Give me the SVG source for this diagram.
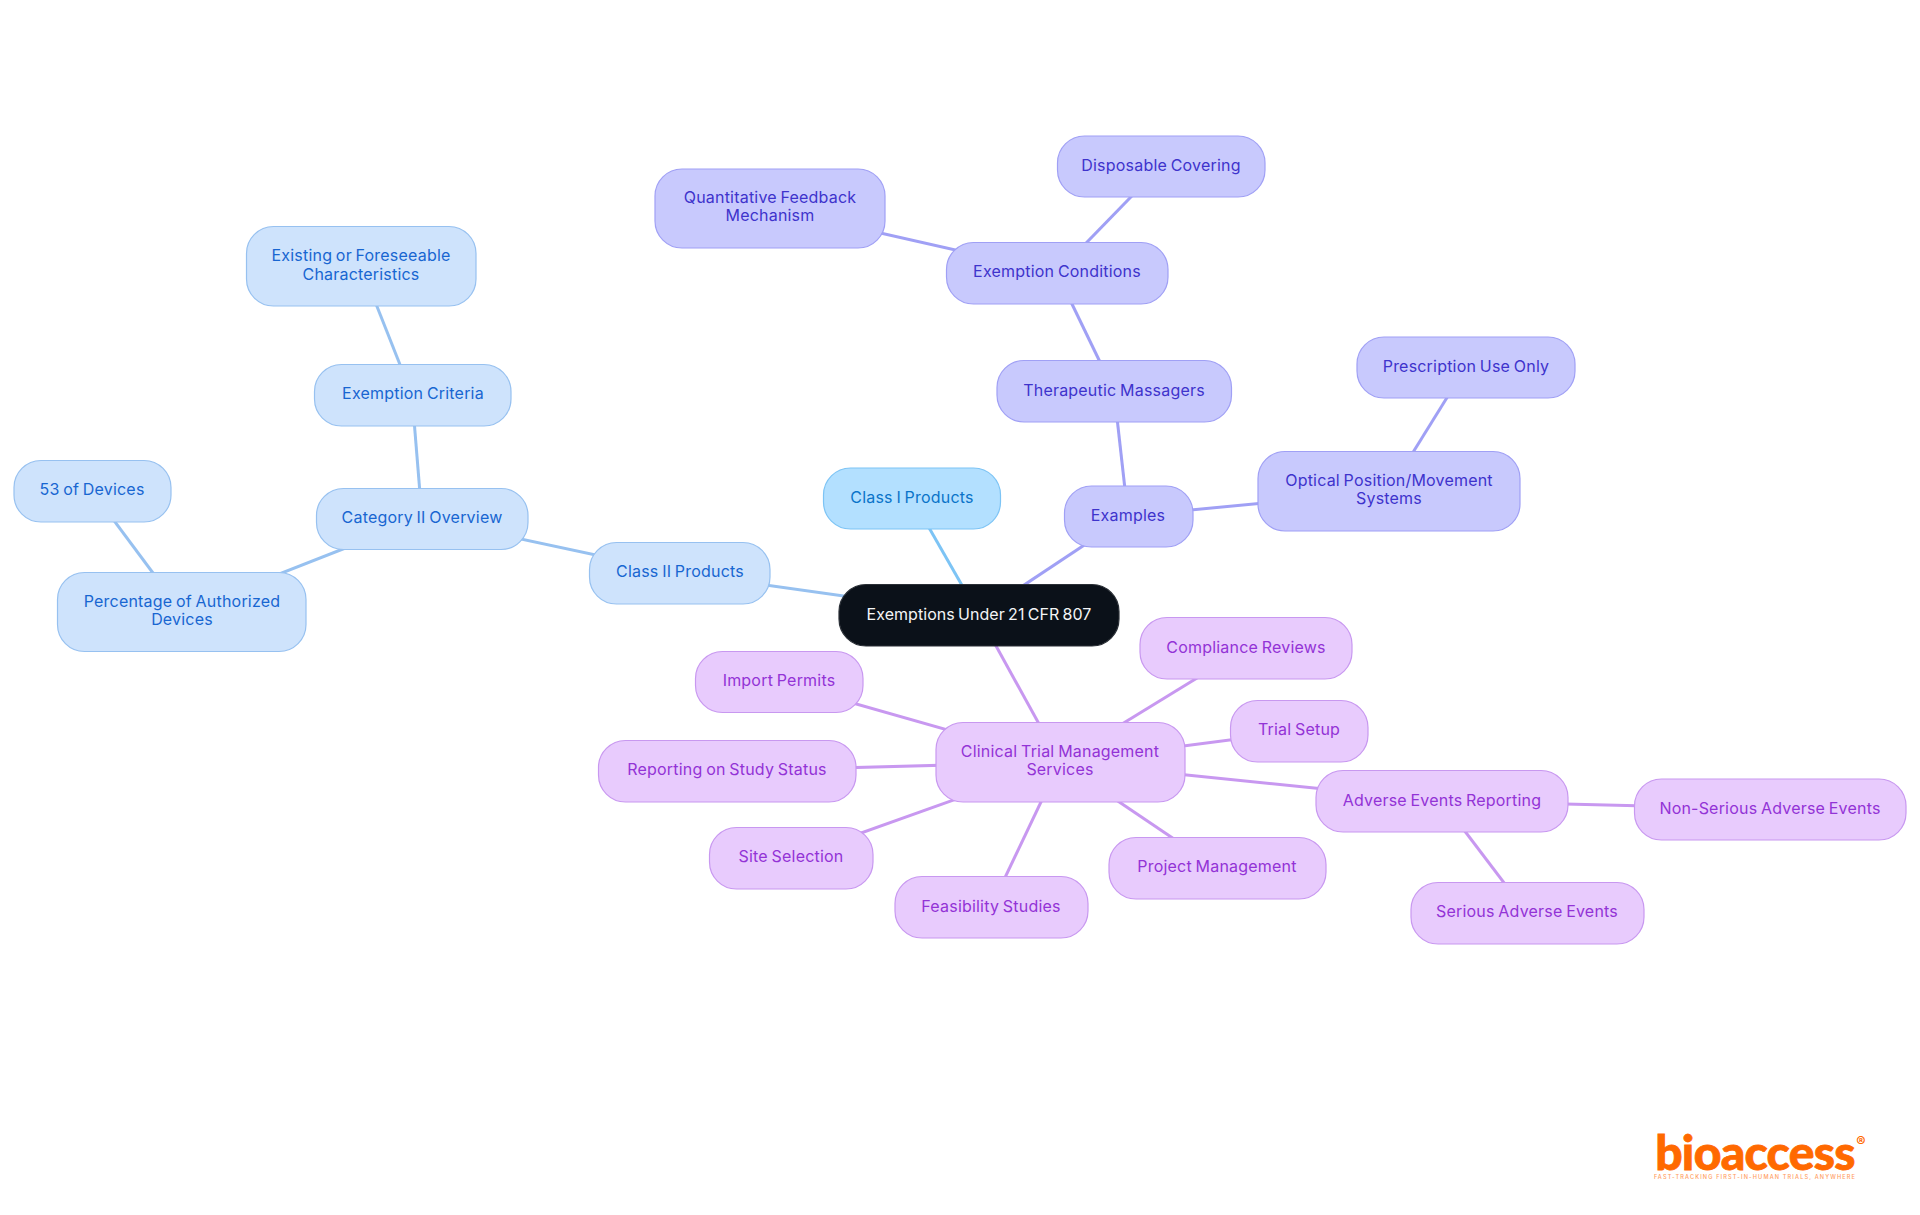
<svg xmlns="http://www.w3.org/2000/svg" width="1920" height="1215" viewBox="0 0 1920 1215">
<style>
text{font-family:"Inter","Noto Sans","Liberation Sans",sans-serif;font-size:16px;text-anchor:middle;letter-spacing:.2px;word-spacing:-1px}
rect{stroke-width:1.2}
line{stroke-width:3}
.s text{fill:#0a74c9}.s rect{fill:#b3e0ff;stroke:#7dc4f5}
.b text{fill:#1866d1}.b rect{fill:#cee3fc;stroke:#97c1f0}
.i text{fill:#3e33cc}.i rect{fill:#c8c9fd;stroke:#a0a0f5}
.p text{fill:#9333d6}.p rect{fill:#e8cbfd;stroke:#c898f0}
.r text{fill:#f4f5f6;letter-spacing:.05px;word-spacing:-1.3px}.r rect{fill:#0b1119;stroke:#2a2f36}
.cs{stroke:#7dc4f5}.cb{stroke:#97c1f0}.ci{stroke:#a0a0f5}.cp{stroke:#c898f0}
</style>
<g id="connectors">
<line class="cs" x1="979" y1="615" x2="912" y2="498"/>
<line class="cb" x1="979" y1="615" x2="680" y2="573"/>
<line class="cb" x1="680" y1="573" x2="422" y2="518"/>
<line class="cb" x1="422" y1="518" x2="412" y2="395"/>
<line class="cb" x1="412" y1="395" x2="361" y2="266"/>
<line class="cb" x1="422" y1="518" x2="182" y2="612"/>
<line class="cb" x1="182" y1="612" x2="92" y2="491"/>
<line class="ci" x1="979" y1="615" x2="1128" y2="516"/>
<line class="ci" x1="1128" y1="516" x2="1114" y2="391"/>
<line class="ci" x1="1114" y1="391" x2="1057" y2="273"/>
<line class="ci" x1="1057" y1="273" x2="770" y2="208"/>
<line class="ci" x1="1057" y1="273" x2="1161" y2="166"/>
<line class="ci" x1="1128" y1="516" x2="1389" y2="491"/>
<line class="ci" x1="1389" y1="491" x2="1466" y2="367"/>
<line class="cp" x1="979" y1="615" x2="1060" y2="762"/>
<line class="cp" x1="1060" y1="762" x2="1246" y2="648"/>
<line class="cp" x1="1060" y1="762" x2="779" y2="682"/>
<line class="cp" x1="1060" y1="762" x2="1299" y2="731"/>
<line class="cp" x1="1060" y1="762" x2="727" y2="771"/>
<line class="cp" x1="1060" y1="762" x2="1442" y2="801"/>
<line class="cp" x1="1442" y1="801" x2="1770" y2="809"/>
<line class="cp" x1="1442" y1="801" x2="1527" y2="913"/>
<line class="cp" x1="1060" y1="762" x2="791" y2="858"/>
<line class="cp" x1="1060" y1="762" x2="1217" y2="868"/>
<line class="cp" x1="1060" y1="762" x2="991" y2="907"/>
</g>
<g id="root" class="r"><rect x="839" y="584.5" width="280" height="61.5" rx="27"/><text x="979" y="620">Exemptions Under 21 CFR 807</text></g>
<g id="class1" class="s"><rect x="823.5" y="468" width="177" height="61" rx="27"/><text x="912" y="503">Class I Products</text></g>
<g id="class2" class="b"><rect x="589.5" y="542.5" width="180.5" height="61.5" rx="27"/><text x="680" y="577">Class II Products</text></g>
<g id="category2" class="b"><rect x="316.5" y="488.5" width="211.5" height="61" rx="27"/><text x="422" y="523">Category II Overview</text></g>
<g id="criteria" class="b"><rect x="314.5" y="364.5" width="196.5" height="61.5" rx="27"/><text x="413" y="399">Exemption Criteria</text></g>
<g id="existing" class="b"><rect x="246.5" y="226.5" width="229.5" height="79.5" rx="27"/><text x="361" y="261">Existing or Foreseeable</text><text x="361" y="280">Characteristics</text></g>
<g id="percentage" class="b"><rect x="57.5" y="572.5" width="248.5" height="79" rx="27"/><text x="182" y="607">Percentage of Authorized</text><text x="182" y="625">Devices</text></g>
<g id="devices53" class="b"><rect x="14" y="460.5" width="157" height="61.5" rx="27"/><text x="92" y="495">53 of Devices</text></g>
<g id="examples" class="i"><rect x="1064.5" y="486" width="128.5" height="61" rx="27"/><text x="1128" y="521">Examples</text></g>
<g id="massagers" class="i"><rect x="997" y="360.5" width="234.5" height="61.5" rx="27"/><text x="1114" y="396">Therapeutic Massagers</text></g>
<g id="conditions" class="i"><rect x="946.5" y="242.5" width="221.5" height="61.5" rx="27"/><text x="1057" y="277">Exemption Conditions</text></g>
<g id="feedback" class="i"><rect x="655" y="169" width="230" height="79" rx="27"/><text x="770" y="203">Quantitative Feedback</text><text x="770" y="221">Mechanism</text></g>
<g id="covering" class="i"><rect x="1057.5" y="136" width="207.5" height="61" rx="27"/><text x="1161" y="171">Disposable Covering</text></g>
<g id="optical" class="i"><rect x="1258" y="451.5" width="262" height="79.5" rx="27"/><text x="1389" y="486">Optical Position/Movement</text><text x="1389" y="504">Systems</text></g>
<g id="prescription" class="i"><rect x="1357" y="337" width="218" height="61" rx="27"/><text x="1466" y="372">Prescription Use Only</text></g>
<g id="clinical" class="p"><rect x="936" y="722.5" width="249" height="79.5" rx="27"/><text x="1060" y="757">Clinical Trial Management</text><text x="1060" y="775">Services</text></g>
<g id="compliance" class="p"><rect x="1140" y="617.5" width="212" height="61.5" rx="27"/><text x="1246" y="653">Compliance Reviews</text></g>
<g id="import" class="p"><rect x="695.5" y="651.5" width="167.5" height="61" rx="27"/><text x="779" y="686">Import Permits</text></g>
<g id="setup" class="p"><rect x="1230.5" y="700.5" width="137.5" height="61.5" rx="27"/><text x="1299" y="735">Trial Setup</text></g>
<g id="reporting" class="p"><rect x="598.5" y="740.5" width="257.5" height="61.5" rx="27"/><text x="727" y="775">Reporting on Study Status</text></g>
<g id="adverse" class="p"><rect x="1316" y="770.5" width="252" height="61.5" rx="27"/><text x="1442" y="806">Adverse Events Reporting</text></g>
<g id="nonserious" class="p"><rect x="1634.5" y="779" width="271.5" height="61" rx="27"/><text x="1770" y="814">Non-Serious Adverse Events</text></g>
<g id="serious" class="p"><rect x="1411" y="882.5" width="233" height="61.5" rx="27"/><text x="1527" y="917">Serious Adverse Events</text></g>
<g id="site" class="p"><rect x="709.5" y="827.5" width="163.5" height="61.5" rx="27"/><text x="791" y="862">Site Selection</text></g>
<g id="project" class="p"><rect x="1109" y="837.5" width="217" height="61.5" rx="27"/><text x="1217" y="872">Project Management</text></g>
<g id="feasibility" class="p"><rect x="895" y="876.5" width="193" height="61.5" rx="27"/><text x="991" y="912">Feasibility Studies</text></g>
<g id="logo">
<text x="1755" y="1170" style="font-family:Lato,'Liberation Sans',sans-serif;font-size:48px;font-weight:900;fill:#ff6900;stroke:#ff6900;stroke-width:.8;letter-spacing:-.7px;word-spacing:0">bioaccess</text>
<text x="1861" y="1147" style="font-size:14px;font-weight:700;fill:#ff6900;letter-spacing:0;word-spacing:0">®</text>
<text x="1755" y="1179" style="font-size:5.6px;font-weight:500;fill:#ff6900;letter-spacing:1.15px;word-spacing:0;opacity:.65">FAST-TRACKING FIRST-IN-HUMAN TRIALS, ANYWHERE</text>
</g>
</svg>
